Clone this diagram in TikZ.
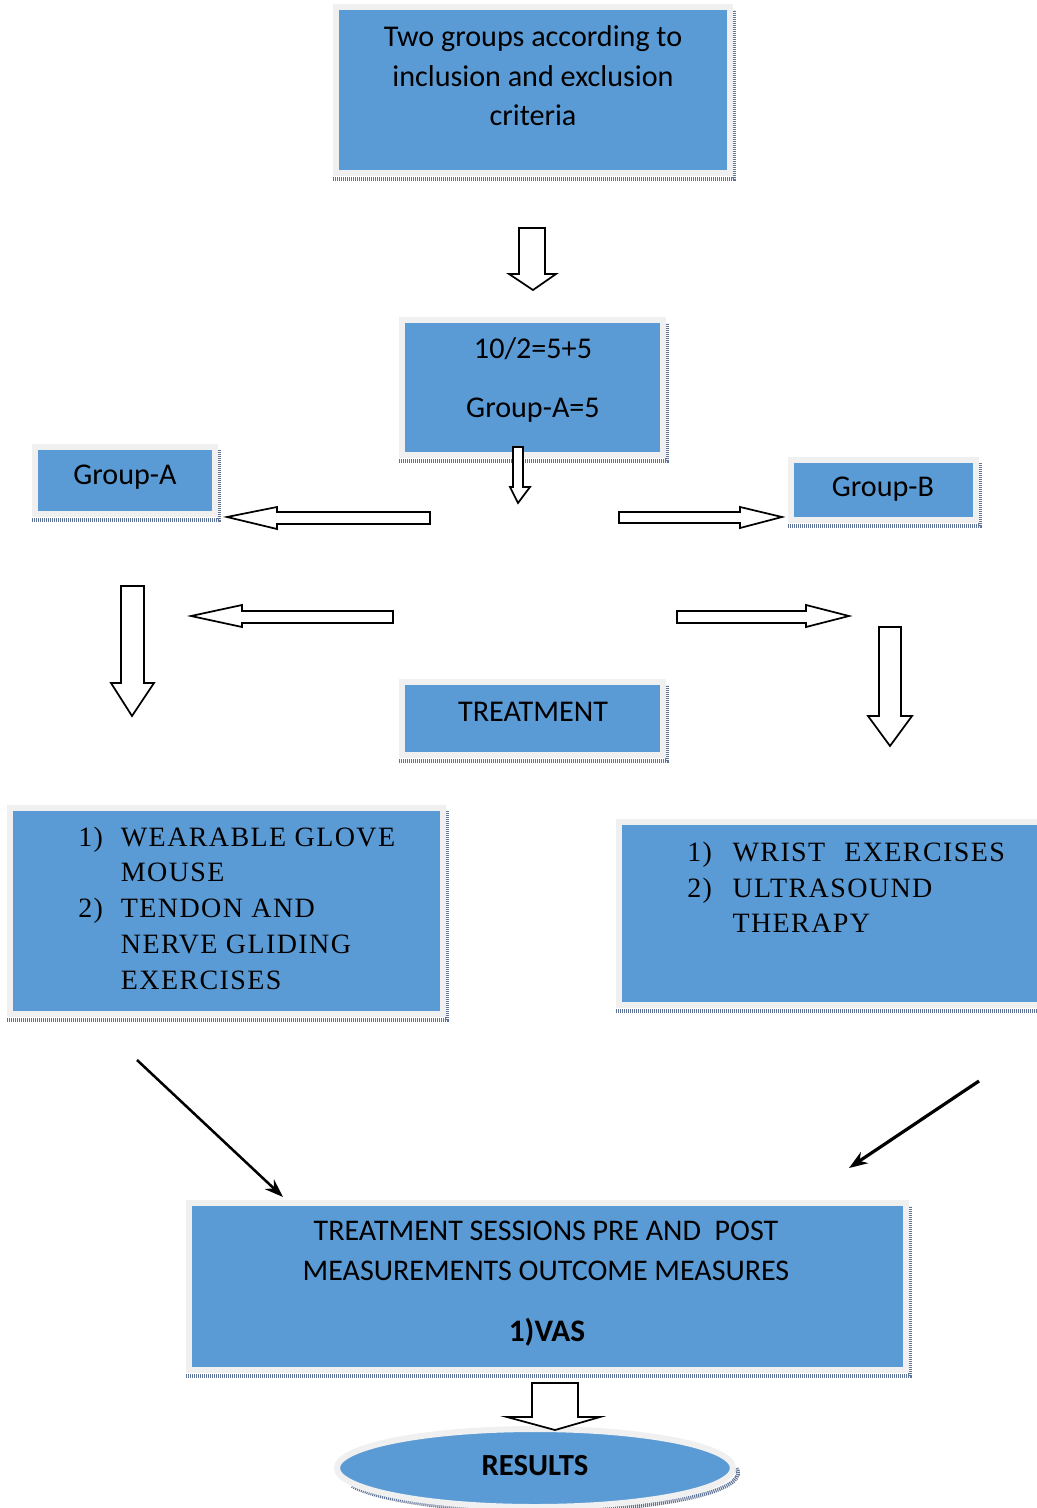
\documentclass[tikz,border=0pt]{standalone}
\usepackage{fontspec}
\setmainfont{Carlito}
\newfontfamily\listfont[LetterSpace=5]{Liberation Serif}
\usetikzlibrary{fit,shapes.geometric,arrows.meta}
\definecolor{boxblue}{RGB}{91,155,213}
\definecolor{edgegrey}{RGB}{240,240,240}
\definecolor{shadowcol}{RGB}{95,115,150}
\tikzset{
  boxst/.style={fill=boxblue, draw=edgegrey, line width=4.5pt, inner sep=0pt, outer sep=0pt},
  shadowline/.style={draw=shadowcol, line width=3pt, dash pattern=on 0.8pt off 0.7pt},
  blockarrow/.style={draw=black, fill=white, line width=1.3pt, line join=miter},
  txt/.style={inner sep=0pt, text=black},
  boxtext/.style={txt, font=\fontsize{22.6}{29.6}\selectfont},
  listtext/.style={txt, font=\listfont\fontsize{21}{26.8}\selectfont},
  diag/.style={draw=black, -{Stealth[length=14pt,width=10pt]}},
}
\newcommand\mybox[5]{%
  \draw[shadowline] (#2-6,#5+9) -- (#4+7,#5+9) -- (#4+7,#3);
  \node[boxst, fit={(#2-3,#3-3) (#4+3,#5+3)}] (#1) {};
}
\begin{document}
\begin{tikzpicture}[x=0.75pt,y=-0.75pt]
\clip (0,0) rectangle (1037,1508);
\fill[white] (0,0) rectangle (1037,1508);

% boxes
\mybox{top}{339}{10}{727}{170}
\mybox{mid}{405}{323}{660}{452}
\mybox{grpA}{38}{450}{212}{511}
\mybox{grpB}{794}{463}{973}{517}
\mybox{treat}{405}{685}{660}{752}
\mybox{listL}{13}{811}{440}{1011}
\mybox{listR}{622}{825}{1050}{1002}
\mybox{final}{192}{1206}{903}{1367}

% texts
\node[boxtext, align=center] (ttop) at (533,76) {Two groups according to\\inclusion and exclusion\\criteria};
\node[boxtext] (tmid1) at (533,349) {10/2=5+5};
\node[boxtext] (tmid2) at (533,410) {Group-A=5};
\node[boxtext] (tgA) at (125,477) {Group-A};
\node[boxtext] (tgB) at (883,489) {Group-B};
\node[boxtext] (ttreat) at (533,712) {TREATMENT};

\node[listtext, anchor=west] (tlistL) at (78,910.5) {%
  \begin{tabular}{@{}p{32pt}@{}l@{}}
  1) & WEARABLE GLOVE\\
     & MOUSE\\
  2) & TENDON AND\\
     & NERVE GLIDING\\
     & EXERCISES
  \end{tabular}};
\node[listtext, anchor=west] (tlistR) at (687,890) {%
  \begin{tabular}{@{}p{34pt}@{}l@{}}
  1) & WRIST\hspace{8pt} EXERCISES\\
  2) & ULTRASOUND\\
     & THERAPY
  \end{tabular}};

\node[txt, align=center, font=\fontsize{22.5}{30}\selectfont] (tfinal) at (546,1251) {TREATMENT SESSIONS PRE AND\ \ POST\\MEASUREMENTS OUTCOME MEASURES};
\node[txt, font=\bfseries\fontsize{23.5}{27}\selectfont] (tvas) at (547,1332) {1)VAS};

% results ellipse
\draw[shadowline] (539,1473) ++(160:199 and 38) arc (160:-8:199 and 38);
\node[ellipse, fill=boxblue, draw=edgegrey, line width=4.5pt, minimum width=297pt, minimum height=58.5pt, inner sep=0pt] (res) at (535,1468) {};
\node[txt, font=\bfseries\fontsize{23}{27}\selectfont] (tres) at (535,1466) {RESULTS};

% block arrows
\draw[blockarrow] (519,228)--(545,228)--(545,274)--(556,274)--(533,290)--(509,274)--(519,274)--cycle;
\draw[blockarrow] (513,447)--(523,447)--(523,487)--(530,487)--(518,503)--(510,487)--(513,487)--cycle;
\draw[blockarrow] (430,512)--(277,512)--(277,507)--(227,517)--(277,529)--(277,524)--(430,524)--cycle;
\draw[blockarrow] (393,611)--(242,611)--(242,605)--(191,616)--(242,627)--(242,623)--(393,623)--cycle;
\draw[blockarrow] (619,512)--(740,512)--(740,507)--(782,517)--(740,528)--(740,523)--(619,523)--cycle;
\draw[blockarrow] (677,611)--(806,611)--(806,605)--(849,616)--(806,627)--(806,623)--(677,623)--cycle;
\draw[blockarrow] (121,586)--(144,586)--(144,683)--(154,683)--(132,716)--(111,683)--(121,683)--cycle;
\draw[blockarrow] (879,627)--(901,627)--(901,716)--(912,716)--(890,746)--(868,716)--(879,716)--cycle;
\draw[blockarrow] (532,1383)--(578,1383)--(578,1417)--(600,1417)--(555,1430)--(507,1417)--(532,1417)--cycle;

% diagonal arrows
\coordinate (la) at (137,1060);
\coordinate (lb) at (283,1197);
\coordinate (ra) at (979,1081);
\coordinate (rb) at (849,1168);
\draw[diag, line width=1.9pt] (la) -- (lb);
\draw[diag, line width=2.4pt] (ra) -- (rb);
\end{tikzpicture}
\end{document}
